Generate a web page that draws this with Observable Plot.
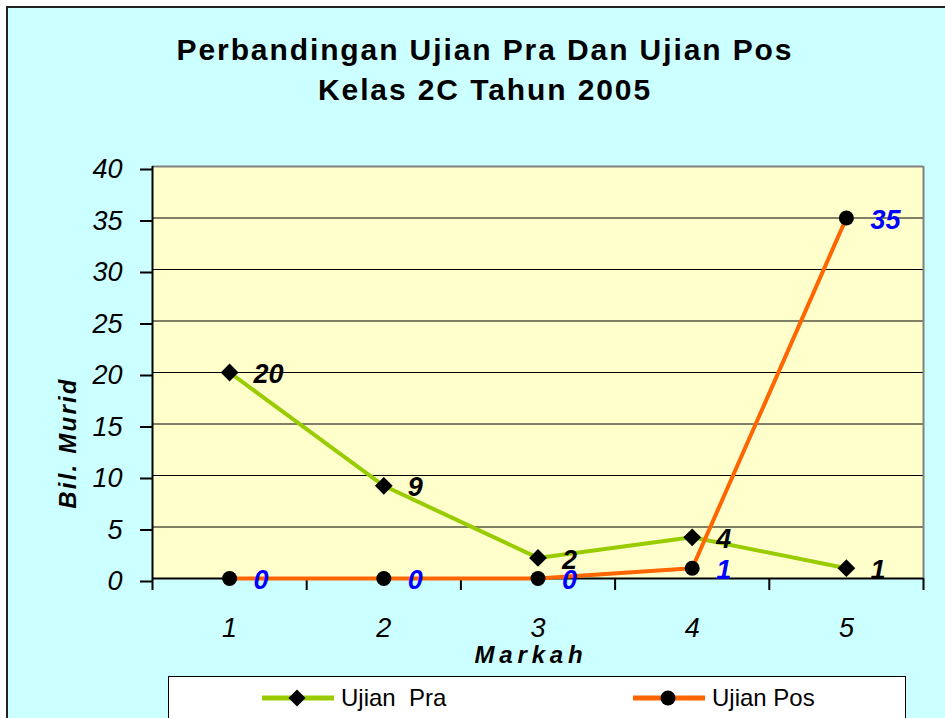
<!DOCTYPE html>
<html><head><meta charset="utf-8">
<script src="https://cdn.jsdelivr.net/npm/d3@7"></script>
<script src="https://cdn.jsdelivr.net/npm/@observablehq/plot@0.6"></script>
<style>
body{margin:0;background:#fff;width:945px;height:718px;overflow:hidden;position:relative;font-family:Arial,"Liberation Sans",sans-serif}
#bg{position:absolute;left:6px;top:6px;width:1000px;height:800px;background:#ccffff;border-left:2px solid #222;border-top:2px solid #222}
#chart{position:absolute;left:0;top:0}
.title{position:absolute;left:0;width:970px;text-align:center;font-weight:bold;font-size:30px;letter-spacing:1.9px;line-height:40px;color:#000;white-space:nowrap}
.axt{position:absolute;font-weight:bold;font-style:italic;font-size:24px;white-space:nowrap;color:#000}
#legend{position:absolute;left:168px;top:676px;width:736px;height:80px;background:#fff;border:1px solid #000}
.li{position:absolute;top:0;height:42px;display:flex;align-items:center;font-size:24px;white-space:pre;color:#000}
</style></head>
<body>
<div id="bg"></div>
<div id="chart"></div>
<div class="title" style="top:30px">Perbandingan Ujian Pra Dan Ujian Pos</div>
<div class="title" style="top:70px">Kelas 2C Tahun 2005</div>
<div class="axt" id="xlab" style="left:531px;top:655px;letter-spacing:4.8px;transform:translate(-50%,-50%)">Markah</div>
<div class="axt" id="ylab" style="left:68px;top:443px;letter-spacing:2.2px;transform:translate(-50%,-50%) rotate(-90deg)">Bil. Murid</div>
<div id="legend"></div>
<script>
const categories = [1, 2, 3, 4, 5];
const pra = [20, 9, 2, 4, 1];
const pos = [0, 0, 0, 1, 35];
const yTicks = [0, 5, 10, 15, 20, 25, 30, 35, 40];
const gridTicks = [5, 10, 15, 20, 25, 30, 35];
const xBounds = [0.5, 1.5, 2.5, 3.5, 4.5, 5.5];
const seriesNames = ["Ujian  Pra", "Ujian Pos"];
const seriesColors = ["#99cc00", "#ff6600"];

const data = categories.map((c, i) => ({markah: c, pra: pra[i], pos: pos[i]}));

const chart = Plot.plot({
  width: 945, height: 718,
  marginLeft: 152, marginRight: 22, marginTop: 166, marginBottom: 140,
  style: {background: "transparent", overflow: "visible", fontFamily: "Arial, 'Liberation Sans', sans-serif", color: "#000"},
  x: {domain: [0.5, 5.5]},
  y: {domain: [0, 40]},
  marks: [
    Plot.frame({fill: "#ffffcc", stroke: null}),
    Plot.ruleY(gridTicks, {stroke: "#000", strokeWidth: 1}),
    Plot.ruleY([40], {stroke: "#808080", strokeWidth: 2}),
    Plot.ruleX([5.5], {stroke: "#808080", strokeWidth: 2}),
    Plot.axisX(xBounds, {tickSize: 12, tickFormat: () => "", stroke: "#000", strokeWidth: 2, label: null}),
    Plot.axisX(categories, {tickSize: 0, tickPadding: 39, fontSize: 27, fontStyle: "italic", tickFormat: d => String(d), label: null}),
    Plot.axisY(yTicks, {tickSize: 12, tickPadding: 18, fontSize: 27, fontStyle: "italic", stroke: "#000", strokeWidth: 2, dy: 3, label: null}),
    Plot.ruleY([0], {stroke: "#000", strokeWidth: 2}),
    Plot.ruleX([0.5], {stroke: "#000", strokeWidth: 2}),
    Plot.line(data, {x: "markah", y: "pra", stroke: seriesColors[0], strokeWidth: 4}),
    Plot.line(data, {x: "markah", y: "pos", stroke: seriesColors[1], strokeWidth: 4}),
    Plot.dot(data, {x: "markah", y: "pra", symbol: "diamond2", r: 8, fill: "#000", stroke: null}),
    Plot.dot(data, {x: "markah", y: "pos", r: 7.5, fill: "#000", stroke: null}),
    Plot.text(data, {x: "markah", y: "pra", text: d => String(d.pra), dx: 24, dy: 2, textAnchor: "start", fontWeight: "bold", fontStyle: "italic", fontSize: 27, fill: "#000"}),
    Plot.text(data, {x: "markah", y: "pos", text: d => String(d.pos), dx: 24, dy: 2, textAnchor: "start", fontWeight: "bold", fontStyle: "italic", fontSize: 27, fill: "#0000ff"})
  ]
});
document.getElementById("chart").appendChild(chart);

// legend
const legend = document.getElementById("legend");
const items = [
  {name: seriesNames[0], color: seriesColors[0], sym: "diamond", left: 93},
  {name: seriesNames[1], color: seriesColors[1], sym: "circle", left: 464}
];
items.forEach(it => {
  const div = document.createElement("div");
  div.className = "li";
  div.style.left = it.left + "px";
  const marker = it.sym === "diamond"
    ? `<rect x="29" y="12" width="12" height="12" transform="rotate(45 35 18)" fill="#000"/>`
    : `<circle cx="35" cy="18" r="7.5" fill="#000"/>`;
  div.innerHTML = `<svg width="72" height="36" style="margin-right:7px"><line x1="0" x2="72" y1="18" y2="18" stroke="${it.color}" stroke-width="5"/>${marker}</svg><span>${it.name}</span>`;
  legend.appendChild(div);
});
</script>
</body></html>
